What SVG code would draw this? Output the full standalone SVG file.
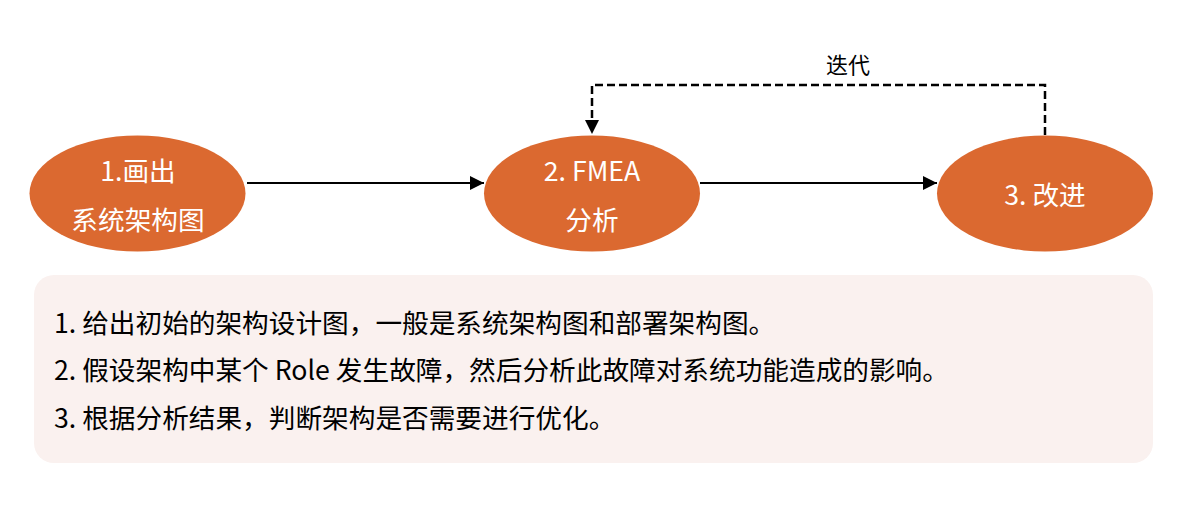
<svg xmlns="http://www.w3.org/2000/svg" width="1195" height="522" viewBox="0 0 1195 522">
<style>
.node{fill:#db6930}
.nt{font-family:"Noto Sans CJK SC","Noto Sans",sans-serif;font-size:26.67px;fill:#ffffff;text-anchor:middle}
.bt{font-family:"Noto Sans CJK SC","Noto Sans",sans-serif;font-size:26.67px;fill:#000000}
.lbl{font-family:"Noto Sans CJK SC","Noto Sans",sans-serif;font-size:22px;fill:#000000;text-anchor:middle}
.edge{fill:none;stroke:#000000;stroke-width:2}
.dash{fill:none;stroke:#000000;stroke-width:2.5;stroke-dasharray:8 4}
</style>
<defs>
<marker id="ah" markerUnits="userSpaceOnUse" markerWidth="14" markerHeight="14" viewBox="0 0 14 14" refX="14" refY="7" orient="auto">
<path d="M0,0 L14,7 L0,14 Z" fill="#000000"/>
</marker>
</defs>
<rect x="0" y="0" width="1195" height="522" fill="#ffffff"/>
<rect id="notes-box" x="34" y="275" width="1119" height="188" rx="20" ry="20" fill="#faf1ef"/>
<g id="connectors">
<path class="edge" d="M247,183 L484,183" marker-end="url(#ah)"/>
<path class="edge" d="M700,183 L937,183" marker-end="url(#ah)"/>
<path class="dash" d="M1045,135 L1045,85 L592,85 L592,134" marker-end="url(#ah)"/>
<text class="lbl" x="848" y="73">迭代</text>
</g>
<g id="node1">
<ellipse class="node" cx="137.5" cy="193.5" rx="108" ry="58"/>
<text class="nt" x="138" y="181">1.画出</text>
<text class="nt" x="138" y="230">系统架构图</text>
</g>
<g id="node2">
<ellipse class="node" cx="592" cy="193.5" rx="108" ry="58"/>
<text class="nt" x="592" y="181">2. FMEA</text>
<text class="nt" x="592" y="230">分析</text>
</g>
<g id="node3">
<ellipse class="node" cx="1045" cy="193.5" rx="108" ry="58"/>
<text class="nt" x="1045" y="205">3. 改进</text>
</g>
<g id="notes">
<text class="bt" x="54" y="333">1. 给出初始的架构设计图，一般是系统架构图和部署架构图。</text>
<text class="bt" x="54" y="380">2. 假设架构中某个 Role 发生故障，然后分析此故障对系统功能造成的影响。</text>
<text class="bt" x="54" y="428">3. 根据分析结果，判断架构是否需要进行优化。</text>
</g>
</svg>
